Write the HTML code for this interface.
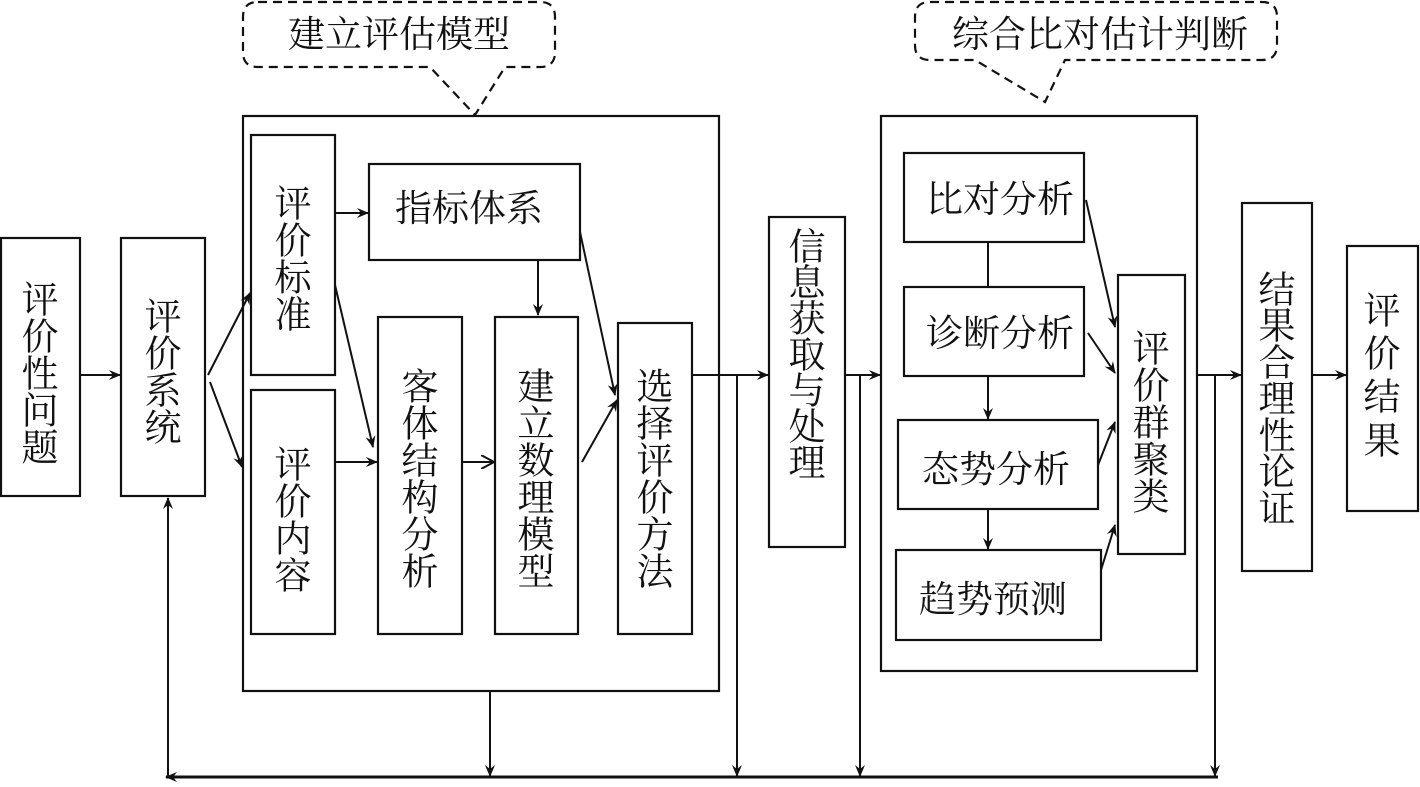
<!DOCTYPE html>
<html><head><meta charset="utf-8"><style>
html,body{margin:0;padding:0;background:#fff;}
svg{display:block;}
text{font-family:"Liberation Serif","Noto Serif CJK SC","Noto Sans CJK SC",serif;font-size:37px;fill:#111;}
.v{text-anchor:middle;dominant-baseline:central;}
</style></head><body>
<svg width="1420" height="787" viewBox="0 0 1420 787" xmlns="http://www.w3.org/2000/svg">
<defs>
<marker id="a" viewBox="0 0 12 10" refX="11" refY="5" markerWidth="12" markerHeight="10" markerUnits="userSpaceOnUse" orient="auto">
<path d="M0,0 L12,5 L0,10 L4,5 Z" fill="#111"/></marker>
<marker id="o" viewBox="0 0 14 14" refX="13" refY="7" markerWidth="14" markerHeight="14" markerUnits="userSpaceOnUse" orient="auto">
<path d="M0,0 L13,7 L0,14" fill="none" stroke="#111" stroke-width="2"/></marker>
</defs>
<g fill="none" stroke="#111" stroke-width="2.2">
<!-- callouts -->
<path d="M258,2 H540 Q555,2 555,17 V52 Q555,67 540,67 H505 L475,115 L430,67 H258 Q243,67 243,52 V17 Q243,2 258,2 Z" stroke-dasharray="9,6"/>
<path d="M930,2 H1262 Q1277,2 1277,17 V45 Q1277,60 1262,60 H1065 L1045,102 L975,60 H930 Q915,60 915,45 V17 Q915,2 930,2 Z" stroke-dasharray="9,6"/>
<!-- boxes -->
<rect x="1" y="238" width="79" height="258"/>
<rect x="121" y="238" width="84" height="258"/>
<rect x="243" y="116" width="476" height="575"/>
<rect x="251" y="135" width="84" height="240"/>
<rect x="251" y="390" width="84" height="244"/>
<rect x="369" y="164" width="211" height="96"/>
<rect x="378" y="317" width="84" height="317"/>
<rect x="495" y="317" width="83" height="317"/>
<rect x="618" y="323" width="74" height="311"/>
<rect x="769" y="217" width="76" height="330"/>
<rect x="881" y="116" width="316" height="555"/>
<rect x="904" y="153" width="180" height="89"/>
<rect x="904" y="287" width="180" height="89"/>
<rect x="898" y="420" width="200" height="89"/>
<rect x="896" y="550" width="205" height="90"/>
<rect x="1118" y="275" width="67" height="279"/>
<rect x="1242" y="203" width="70" height="368"/>
<rect x="1347" y="246" width="71" height="265"/>
</g>
<g fill="none" stroke="#111" stroke-width="2">
<line x1="80" y1="375" x2="120" y2="375" marker-end="url(#a)"/>
<line x1="208" y1="375" x2="250" y2="293" marker-end="url(#a)"/>
<line x1="210" y1="382" x2="242" y2="467" marker-end="url(#a)"/>
<line x1="335" y1="213" x2="368" y2="213" marker-end="url(#a)"/>
<line x1="335" y1="285" x2="373" y2="447" marker-end="url(#a)"/>
<line x1="335" y1="462" x2="377" y2="462" marker-end="url(#a)"/>
<line x1="462" y1="462" x2="494" y2="462" marker-end="url(#o)"/>
<line x1="538" y1="260" x2="538" y2="315" marker-end="url(#a)"/>
<line x1="580" y1="232" x2="615" y2="395" marker-end="url(#a)"/>
<line x1="582" y1="462" x2="617" y2="400" marker-end="url(#a)"/>
<line x1="692" y1="375" x2="768" y2="375" marker-end="url(#a)"/>
<line x1="845" y1="375" x2="880" y2="375" marker-end="url(#a)"/>
<line x1="1197" y1="375" x2="1241" y2="375" marker-end="url(#a)"/>
<line x1="1312" y1="375" x2="1346" y2="375" marker-end="url(#a)"/>
<line x1="988" y1="242" x2="988" y2="287"/>
<line x1="988" y1="376" x2="988" y2="419" marker-end="url(#a)"/>
<line x1="988" y1="509" x2="988" y2="549" marker-end="url(#a)"/>
<line x1="1086" y1="200" x2="1115" y2="327" marker-end="url(#a)"/>
<line x1="1088" y1="333" x2="1115" y2="373" marker-end="url(#a)"/>
<line x1="1098" y1="465" x2="1115" y2="422" marker-end="url(#a)"/>
<line x1="1101" y1="570" x2="1115" y2="525" marker-end="url(#a)"/>
<line x1="490" y1="691" x2="490" y2="776" marker-end="url(#a)"/>
<line x1="737" y1="375" x2="737" y2="776" marker-end="url(#a)"/>
<line x1="860" y1="375" x2="860" y2="776" marker-end="url(#a)"/>
<line x1="1215" y1="375" x2="1215" y2="776" marker-end="url(#a)"/>
<line x1="168" y1="777" x2="168" y2="498" marker-end="url(#a)"/>
<line x1="1218" y1="777" x2="166" y2="777" stroke-width="3" marker-end="url(#a)"/>
</g>
<g>
<text x="399" y="47" style="text-anchor:middle">建立评估模型</text>
<text x="1100" y="47" style="text-anchor:middle">综合比对估计判断</text>
<text x="469" y="221" style="text-anchor:middle">指标体系</text>
<text x="1000" y="212" style="text-anchor:middle">比对分析</text>
<text x="1000" y="346" style="text-anchor:middle">诊断分析</text>
<text x="996" y="482" style="text-anchor:middle">态势分析</text>
<text x="993" y="612" style="text-anchor:middle">趋势预测</text>

<text class="v" x="40" y="301">评</text><text class="v" x="40" y="338">价</text><text class="v" x="40" y="375">性</text><text class="v" x="40" y="412">问</text><text class="v" x="40" y="449">题</text>
<text class="v" x="163" y="318">评</text><text class="v" x="163" y="355">价</text><text class="v" x="163" y="392">系</text><text class="v" x="163" y="429">统</text>
<text class="v" x="293" y="205">评</text><text class="v" x="293" y="242">价</text><text class="v" x="293" y="279">标</text><text class="v" x="293" y="316">准</text>
<text class="v" x="293" y="466">评</text><text class="v" x="293" y="503">价</text><text class="v" x="293" y="540">内</text><text class="v" x="293" y="577">容</text>
<text class="v" x="420" y="388">客</text><text class="v" x="420" y="425">体</text><text class="v" x="420" y="462">结</text><text class="v" x="420" y="499">构</text><text class="v" x="420" y="536">分</text><text class="v" x="420" y="573">析</text>
<text class="v" x="536" y="388">建</text><text class="v" x="536" y="425">立</text><text class="v" x="536" y="462">数</text><text class="v" x="536" y="499">理</text><text class="v" x="536" y="536">模</text><text class="v" x="536" y="573">型</text>
<text class="v" x="655" y="388">选</text><text class="v" x="655" y="425">择</text><text class="v" x="655" y="462">评</text><text class="v" x="655" y="499">价</text><text class="v" x="655" y="536">方</text><text class="v" x="655" y="573">法</text>
<text class="v" x="807" y="248">信</text><text class="v" x="807" y="284">息</text><text class="v" x="807" y="320">获</text><text class="v" x="807" y="356">取</text><text class="v" x="807" y="392">与</text><text class="v" x="807" y="428">处</text><text class="v" x="807" y="464">理</text>
<text class="v" x="1151" y="350">评</text><text class="v" x="1151" y="387">价</text><text class="v" x="1151" y="424">群</text><text class="v" x="1151" y="461">聚</text><text class="v" x="1151" y="498">类</text>
<text class="v" x="1277" y="291">结</text><text class="v" x="1277" y="327">果</text><text class="v" x="1277" y="364">合</text><text class="v" x="1277" y="400">理</text><text class="v" x="1277" y="437">性</text><text class="v" x="1277" y="473">论</text><text class="v" x="1277" y="510">证</text>
<text class="v" x="1382" y="312">评</text><text class="v" x="1382" y="355">价</text><text class="v" x="1382" y="398">结</text><text class="v" x="1382" y="442">果</text>
</g>
</svg>
</body></html>
